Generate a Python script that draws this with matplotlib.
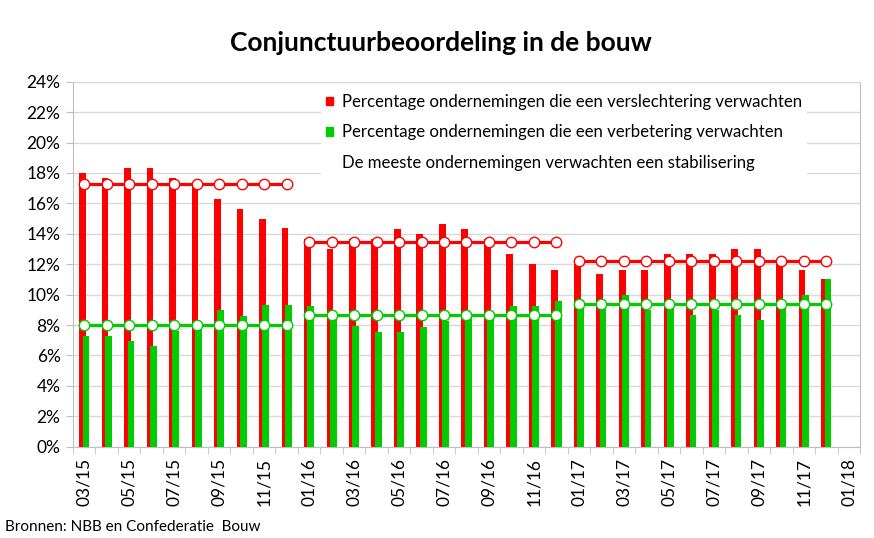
#!/usr/bin/env python3

import numpy as np
import matplotlib
matplotlib.use("Agg")
import matplotlib.pyplot as plt
from matplotlib.patches import Patch
from matplotlib.lines import Line2D

# months 03/15 .. 01/18 (01/18 has no data)
n_cats = 35
tick_labels = ["03/15", "05/15", "07/15", "09/15", "11/15",
               "01/16", "03/16", "05/16", "07/16", "09/16", "11/16",
               "01/17", "03/17", "05/17", "07/17", "09/17", "11/17", "01/18"]

worse = [18.0, 17.67, 18.33, 18.33, 17.67, 17.3, 16.3, 15.65, 15.0, 14.35,
         13.67, 13.0, 13.67, 13.67, 14.33, 14.0, 14.67, 14.33, 13.67, 12.67, 12.0, 11.65,
         12.0, 11.33, 11.65, 11.65, 12.67, 12.67, 12.67, 13.0, 13.0, 12.1, 11.65, 11.0]
better = [7.28, 7.28, 6.95, 6.6, 7.6, 7.9, 8.96, 8.6, 9.29, 9.29,
          9.26, 8.6, 7.93, 7.57, 7.57, 7.9, 8.26, 8.6, 8.7, 9.26, 9.26, 9.57,
          9.3, 9.3, 10.0, 9.0, 9.3, 8.67, 9.0, 8.67, 8.33, 9.3, 10.0, 11.0]

# yearly averages (2015: 10 months, 2016 and 2017: 12 months)
year_len = [10, 12, 12]
worse_avg = [17.3, 13.47, 12.2]
better_avg = [8.0, 8.65, 9.4]

RED = "#ff0000"
GREEN = "#00cc00"

plt.rcParams['font.family'] = ['Lato', 'DejaVu Sans']

fig = plt.figure(figsize=(8.74, 5.38), dpi=100)
ax = fig.add_axes([73 / 874, 1 - 446.7 / 538, 787 / 874, 365 / 538])

x = np.arange(len(worse))
ax.bar(x - 0.075, worse, width=0.3, color=RED, zorder=2)
ax.bar(x + 0.075, better, width=0.3, color=GREEN, zorder=3)

start = 0
for n, r, g in zip(year_len, worse_avg, better_avg):
    xs = x[start:start + n]
    ax.plot(xs, [r] * n, color=RED, lw=2.3, marker="o", ms=7.5,
            mfc="white", mec=RED, mew=1, zorder=4)
    ax.plot(xs, [g] * n, color=GREEN, lw=2.3, marker="o", ms=7.5,
            mfc="white", mec=GREEN, mew=1, zorder=4)
    start += n

ax.set_xlim(-0.5, n_cats - 0.5)
ax.set_ylim(0, 24)
ax.set_yticks(np.arange(0, 25, 2))
ax.set_yticklabels([f"{v}%" for v in range(0, 25, 2)], fontsize=12.5)
ax.yaxis.grid(True, color="#d9d9d9", lw=1, zorder=0)
ax.set_axisbelow(True)

ax.set_xticks(np.arange(0, n_cats, 2))
ax.set_xticklabels(tick_labels, rotation=90, fontsize=12.5)
ax.set_xticks(np.arange(-0.5, n_cats, 1), minor=True)
ax.tick_params(axis="x", which="major", length=0, pad=8)
ax.tick_params(axis="x", which="minor", length=5, color="#bfbfbf")
ax.tick_params(axis="y", length=5, color="#bfbfbf", pad=4)

for s in ax.spines.values():
    s.set_color("#bfbfbf")
ax.spines["top"].set_color("#d9d9d9")

handles = [Patch(color=RED), Patch(color=GREEN),
           Line2D([], [], color="none")]
labels = ["Percentage ondernemingen die een verslechtering verwachten",
          "Percentage ondernemingen die een verbetering verwachten",
          "De meeste ondernemingen verwachten een stabilisering"]
leg = ax.legend(handles, labels, loc="upper left",
                bbox_to_anchor=((321 - 73) / 787, (446.7 - 89) / 365),
                fontsize=12.1, frameon=True, fancybox=False,
                handlelength=0.42, handleheight=0.42, handletextpad=0.5,
                labelspacing=0.85, borderpad=0.3, borderaxespad=0)
leg.get_frame().set_edgecolor("none")
leg.get_frame().set_facecolor("white")
leg.get_frame().set_alpha(1)
leg.set_zorder(5)

fig.text(441 / 874, 1 - 43 / 538, "Conjunctuurbeoordeling in de bouw",
         ha="center", va="center", fontsize=19, fontweight="bold")
fig.text(5 / 874, 1 - 527 / 538, "Bronnen: NBB en Confederatie  Bouw",
         ha="left", va="center", fontsize=11)

fig.savefig("out.png", dpi=100)
